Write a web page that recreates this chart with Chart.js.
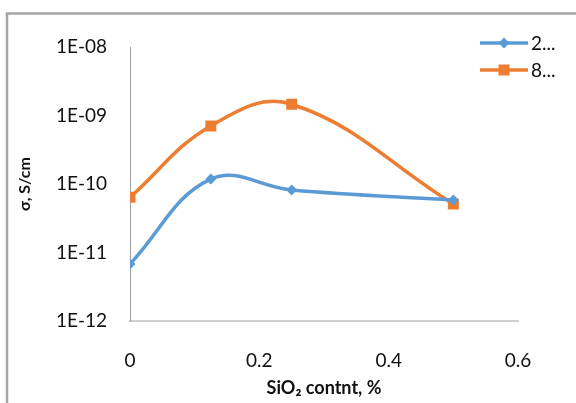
<!DOCTYPE html>
<html>
<head>
<meta charset="utf-8">
<script src="https://cdn.jsdelivr.net/npm/chart.js@4.4.0/dist/chart.umd.min.js"></script>
<style>
html,body{margin:0;padding:0;background:#fff;}
#wrap{width:576px;height:403px;position:relative;}
</style>
</head>
<body>
<div id="wrap"><canvas id="chart" width="576" height="403"></canvas></div>
<script>
const sio2 = [0, 0.125, 0.25, 0.5];
const series2 = [6.8e-12, 1.18e-10, 8.2e-11, 5.85e-11];
const series8 = [6.4e-11, 7.05e-10, 1.46e-9, 5.1e-11];
const seriesNames = ["2...", "8..."];
const yTicks = [1e-12, 1e-11, 1e-10, 1e-9, 1e-8];
const yTickLabels = ["1E-12", "1E-11", "1E-10", "1E-09", "1E-08"];
const xTicks = [0, 0.2, 0.4, 0.6];
const xTickLabels = ["0", "0.2", "0.4", "0.6"];

const FONT = "Lato, 'Open Sans', sans-serif";

function toPoints(ys){
    return sio2.map((x,i)=>({x:x, y:ys[i]}));
}

// frame lines on left and top like the cropped excel picture
const framePlugin = {
    id:'frame',
    beforeDraw(chart){
        const ctx = chart.ctx;
        ctx.save();
        ctx.strokeStyle = '#a6a6a6';
        ctx.lineWidth = 2.5;
        ctx.beginPath();
        ctx.moveTo(7, 403);
        ctx.lineTo(7, 13.5);
        ctx.lineTo(576, 13.5);
        ctx.stroke();
        ctx.restore();
    }
};

// legend sits outside the plot on the right
const legendPlugin = {
    id:'sideLegend',
    afterDraw(chart){
        const ctx = chart.ctx;
        ctx.save();
        chart.data.datasets.forEach((ds,i)=>{
            const y = 43 + i*27;
            ctx.strokeStyle = ds.borderColor;
            ctx.lineWidth = ds.borderWidth;
            ctx.beginPath();
            ctx.moveTo(480, y);
            ctx.lineTo(528, y);
            ctx.stroke();
            Chart.helpers.drawPoint(ctx, {
                pointStyle: ds.pointStyle,
                radius: ds.pointRadius,
                borderWidth: 1
            }, 504, y);
            ctx.fillStyle = ds.borderColor;
            ctx.fill();
            ctx.fillStyle = '#111';
            ctx.font = '19px ' + FONT;
            ctx.textBaseline = 'middle';
            ctx.textAlign = 'left';
            ctx.fillText(ds.label, 531, y + 1);
        });
        ctx.restore();
    }
};

new Chart(document.getElementById('chart').getContext('2d'), {
    type:'line',
    data:{
        datasets:[
            {
                label: seriesNames[0],
                data: toPoints(series2),
                borderColor:'#5b9bd5',
                backgroundColor:'#5b9bd5',
                borderWidth:3.5,
                pointStyle:'rectRot',
                pointRadius:3,
                tension:0.4
            },
            {
                label: seriesNames[1],
                data: toPoints(series8),
                borderColor:'#ed7d31',
                backgroundColor:'#ed7d31',
                borderWidth:3.5,
                pointStyle:'rect',
                pointRadius:5.3,
                tension:0.4
            }
        ]
    },
    options:{
        responsive:false,
        animation:false,
        layout:{padding:{top:47, right:58, left:0, bottom:0}},
        plugins:{
            legend:{display:false},
            tooltip:{enabled:false}
        },
        scales:{
            x:{
                type:'linear',
                min:0, max:0.6,
                grid:{display:false, drawTicks:false},
                border:{display:true, color:'#d0d0d0', width:2},
                afterBuildTicks(scale){ scale.ticks = xTicks.map(v=>({value:v})); },
                afterFit(scale){ scale.height = 82; },
                ticks:{
                    padding:28,
                    color:'#111',
                    font:{family:FONT, size:19},
                    callback:(v,i)=>xTickLabels[i]
                },
                title:{
                    display:true,
                    text:'SiO\u2082 contnt, %',
                    color:'#111',
                    font:{family:FONT, size:18, weight:'bold'},
                    padding:{top:0, bottom:4}
                }
            },
            y:{
                type:'logarithmic',
                min:1e-12, max:1e-8,
                grid:{display:false, drawTicks:false},
                border:{display:true, color:'#a0a0a0', width:1},
                afterBuildTicks(scale){ scale.ticks = yTicks.map(v=>({value:v})); },
                afterFit(scale){ scale.width = 130; },
                ticks:{
                    padding:23,
                    color:'#111',
                    font:{family:FONT, size:19},
                    callback:(v,i)=>yTickLabels[i]
                },
                title:{
                    display:true,
                    text:'\u03c3, S/cm',
                    color:'#111',
                    font:{family:FONT, size:16, weight:'bold'},
                    padding:{top:15, bottom:0}
                }
            }
        }
    },
    plugins:[framePlugin, legendPlugin]
});
</script>
</body>
</html>
